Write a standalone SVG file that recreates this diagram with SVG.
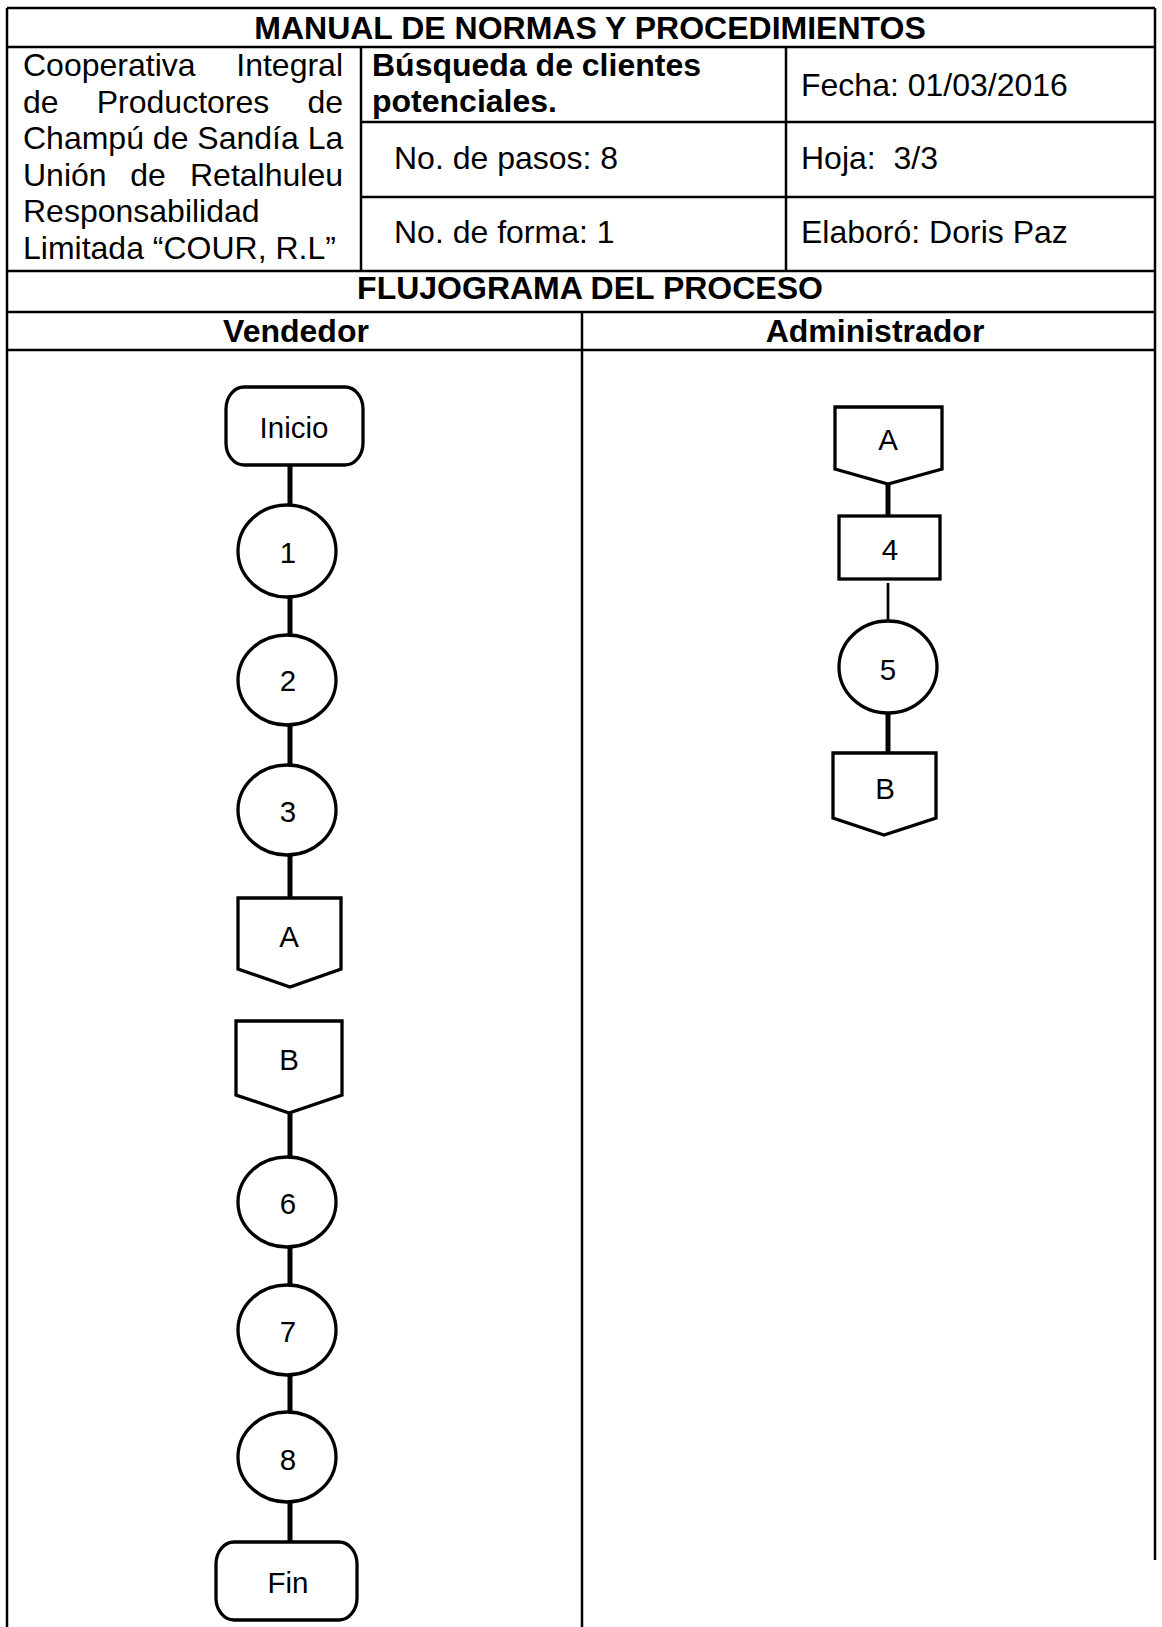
<svg xmlns="http://www.w3.org/2000/svg" width="1162" height="1627" viewBox="0 0 1162 1627">
<style>
.t{font-family:"Liberation Sans",Arial,sans-serif;font-size:32px;fill:#000}
.b{font-weight:bold}
.m{text-anchor:middle}
.e{text-anchor:end}
.grid{stroke:#000;stroke-width:2.5;fill:none}
.shape{fill:#fff;stroke:#000;stroke-width:3.3}
.lbl{font-family:"Liberation Sans",Arial,sans-serif;font-size:29.5px;fill:#000;text-anchor:middle}
.conn{stroke:#000;stroke-width:5;fill:none}
.thin{stroke:#000;stroke-width:2.7;fill:none}
</style>
<rect width="1162" height="1627" fill="#fff"/>
<g id="table" class="grid">
<line x1="7" y1="8" x2="1155" y2="8"/>
<line x1="7" y1="47" x2="1155" y2="47"/>
<line x1="361" y1="122" x2="1155" y2="122"/>
<line x1="361" y1="197" x2="1155" y2="197"/>
<line x1="7" y1="271" x2="1155" y2="271"/>
<line x1="7" y1="312" x2="1155" y2="312"/>
<line x1="7" y1="350" x2="1155" y2="350"/>
<line x1="7" y1="8" x2="7" y2="1627"/>
<line x1="1155" y1="8" x2="1155" y2="1560"/>
<line x1="361" y1="47" x2="361" y2="271"/>
<line x1="786" y1="47" x2="786" y2="271"/>
<line x1="582" y1="312" x2="582" y2="1627"/>
</g>
<g id="header-text">
<text class="t b m" x="590" y="39">MANUAL DE NORMAS Y PROCEDIMIENTOS</text>
<text class="t" x="23" y="76">Cooperativa</text>
<text class="t e" x="343" y="76">Integral</text>
<text class="t" x="23" y="113">de</text>
<text class="t m" x="183" y="113">Productores</text>
<text class="t e" x="343" y="113">de</text>
<text class="t" x="23" y="149">Champú de Sandía La</text>
<text class="t" x="23" y="186">Unión</text>
<text class="t m" x="148" y="186">de</text>
<text class="t e" x="343" y="186">Retalhuleu</text>
<text class="t" x="23" y="222">Responsabilidad</text>
<text class="t" x="23" y="259">Limitada “COUR, R.L”</text>
<text class="t b" x="372" y="76">Búsqueda de clientes</text>
<text class="t b" x="372" y="112">potenciales.</text>
<text class="t" x="801" y="96">Fecha: 01/03/2016</text>
<text class="t" x="394" y="169">No. de pasos: 8</text>
<text class="t" x="801" y="169" xml:space="preserve">Hoja:  3/3</text>
<text class="t" x="394" y="243">No. de forma: 1</text>
<text class="t" x="801" y="243">Elaboró: Doris Paz</text>
<text class="t b m" x="590" y="299">FLUJOGRAMA DEL PROCESO</text>
<text class="t b m" x="296" y="342">Vendedor</text>
<text class="t b m" x="875" y="342">Administrador</text>
</g>
<g id="connectors">
<line class="conn" x1="290" y1="465" x2="290" y2="506"/>
<line class="conn" x1="290" y1="597" x2="290" y2="636"/>
<line class="conn" x1="290" y1="725" x2="290" y2="766"/>
<line class="conn" x1="290" y1="855" x2="290" y2="898"/>
<line class="conn" x1="290" y1="1113" x2="290" y2="1158"/>
<line class="conn" x1="290" y1="1247" x2="290" y2="1285"/>
<line class="conn" x1="290" y1="1375" x2="290" y2="1413"/>
<line class="conn" x1="290" y1="1502" x2="290" y2="1542"/>
<line class="conn" x1="888" y1="484" x2="888" y2="516"/>
<line class="thin" x1="888" y1="583" x2="888" y2="620"/>
<line class="conn" x1="888" y1="713" x2="888" y2="753"/>
</g>
<g id="n-inicio"><rect class="shape" x="226" y="387" width="137" height="78" rx="18" ry="22"/><text class="lbl" x="294" y="438">Inicio</text></g>
<g id="n-1"><ellipse class="shape" cx="287" cy="551" rx="49" ry="46"/><text class="lbl" x="288" y="563">1</text></g>
<g id="n-2"><ellipse class="shape" cx="287" cy="680" rx="49" ry="45"/><text class="lbl" x="288" y="691">2</text></g>
<g id="n-3"><ellipse class="shape" cx="287" cy="810" rx="49" ry="45"/><text class="lbl" x="288" y="822">3</text></g>
<g id="n-a-left"><polygon class="shape" points="238,898 341,898 341,969 290,987 238,969"/><text class="lbl" x="289" y="947">A</text></g>
<g id="n-b-left"><polygon class="shape" points="236,1021 342,1021 342,1095 289,1113 236,1095"/><text class="lbl" x="289" y="1070">B</text></g>
<g id="n-6"><ellipse class="shape" cx="287" cy="1202" rx="49" ry="45"/><text class="lbl" x="288" y="1214">6</text></g>
<g id="n-7"><ellipse class="shape" cx="287" cy="1330" rx="49" ry="45"/><text class="lbl" x="288" y="1342">7</text></g>
<g id="n-8"><ellipse class="shape" cx="287" cy="1457" rx="49" ry="45"/><text class="lbl" x="288" y="1470">8</text></g>
<g id="n-fin"><rect class="shape" x="216" y="1542" width="141" height="78" rx="18" ry="22"/><text class="lbl" x="288" y="1593">Fin</text></g>
<g id="n-a-right"><polygon class="shape" points="835,407 942,407 942,469 888,484 835,469"/><text class="lbl" x="888" y="450">A</text></g>
<g id="n-4"><rect class="shape" x="839" y="516" width="101" height="63"/><text class="lbl" x="890" y="560">4</text></g>
<g id="n-5"><ellipse class="shape" cx="888" cy="667" rx="49" ry="46"/><text class="lbl" x="888" y="680">5</text></g>
<g id="n-b-right"><polygon class="shape" points="833,753 936,753 936,818 884,835 833,818"/><text class="lbl" x="885" y="799">B</text></g>
</svg>
